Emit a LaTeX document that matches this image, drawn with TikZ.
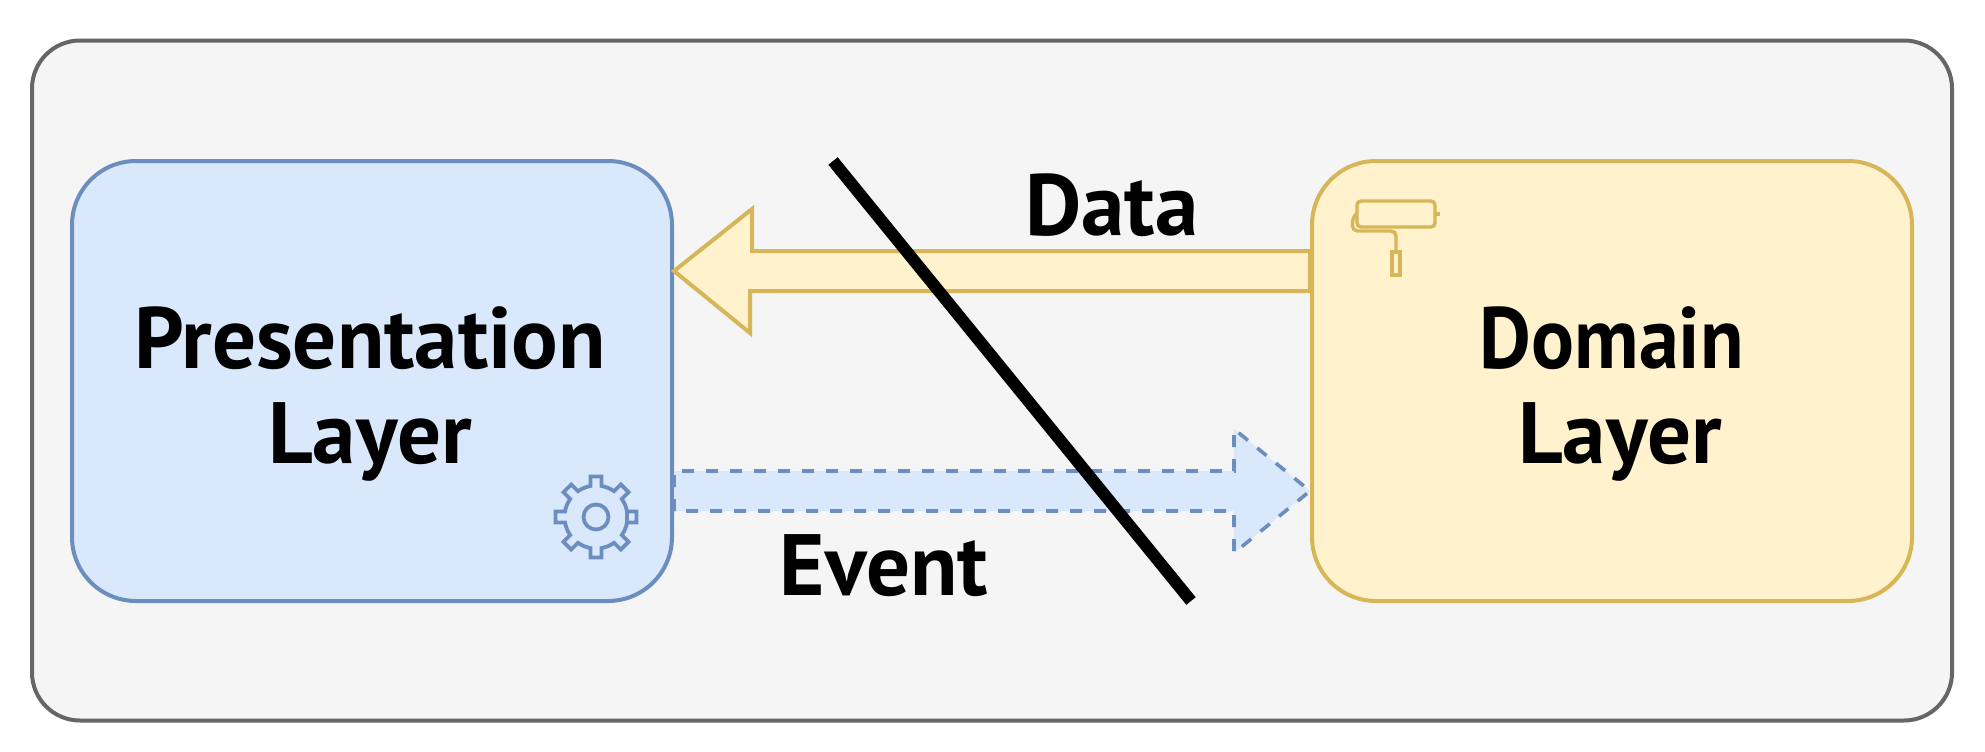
\documentclass[tikz,border=0pt]{standalone}
\usepackage{fontspec}
\setmainfont{PT Sans}
\usetikzlibrary{calc}
\definecolor{bluef}{HTML}{DAE8FC}
\definecolor{blued}{HTML}{6C8EBF}
\definecolor{yelf}{HTML}{FFF2CC}
\definecolor{yeld}{HTML}{D6B656}
\definecolor{grayf}{HTML}{F5F5F5}
\definecolor{grayd}{HTML}{666666}
\newcommand{\handfont}{\fontsize{43.5}{47.5}\selectfont\bfseries}
\tikzset{
  layerbox/.style={rectangle,draw,line width=2pt,rounded corners=32pt,minimum width=300pt,minimum height=220pt,inner sep=0pt},
  label/.style={font=\handfont,text=black,align=center,inner sep=0pt},
  yarrow/.style={draw=yeld,fill=yelf,line width=2pt,miter limit=10},
  barrowfill/.style={fill=bluef},
  barrowline/.style={draw=blued,line width=1.8pt,dash pattern=on 6pt off 6pt},
  icony/.style={draw=yeld,line width=1.7pt},
  iconb/.style={draw=blued,line width=1.9pt},
}
\begin{document}
\begin{tikzpicture}[x=0.5pt,y=-0.5pt]
\useasboundingbox (0,0) rectangle (1985,751);
\fill[white] (0,0) rectangle (1985,751);
\node[rectangle,draw=grayd,fill=grayf,line width=2pt,rounded corners=24pt,minimum width=960pt,minimum height=340pt,inner sep=0pt] (outer) at (992,380.5) {};
\node[layerbox,draw=blued,fill=bluef] (pres) at (372,381) {};
\node[layerbox,draw=yeld,fill=yelf] (dom) at (1612,381) {};
% Data arrow
\coordinate (dataY) at (0,271);
\coordinate (eventY) at (0,491);
\draw[yarrow] (pres.east |- dataY) -- ++(78,-62) -- ++(0,42) -- (dom.west |- 0,251) -- (dom.west |- 0,291) -- (750,291) -- ++(0,42) -- cycle;
% Event arrow
\fill[barrowfill] (pres.east |- 0,471) -- (1234,471) -- (1234,429) -- (dom.west |- eventY) -- (1234,553) -- (1234,511) -- (pres.east |- 0,511) -- cycle;
\draw[barrowline,dash phase=8pt] (674,471) -- (1234,471) -- (1234,429) -- (dom.west |- eventY) -- (1234,553) -- (1234,511) -- (674,511) -- (674,471);
% Strike-through
\coordinate (s1) at (833,161);
\coordinate (s2) at (1191,601);
\draw[black,line width=6pt] (s1) -- (s2);
% Roller icon
\draw[icony,rounded corners=2pt] (1357,201) rectangle (1435,227);
\draw[icony] (1436,214) -- (1440,214);
\draw[icony,rounded corners=2.5pt] (1356,214) -- (1352.5,218) -- (1352.5,231) -- (1396,231) -- (1396,252);
\draw[icony] (1392,252) rectangle (1400,275);
% Gear icon
\coordinate (gear) at (596,517);
\draw[iconb] (gear) circle[radius=12.5];
\draw[iconb,shift={(gear)}] (10:31.5)
  \foreach \a in {0,45,...,315}{
    -- ({\a-10}:31.5) -- ({\a-7.7}:40.9) -- ({\a+7.7}:40.9) -- ({\a+10}:31.5)
    arc[start angle=\a+10,end angle=\a+35,radius=31.5]
  } -- cycle;
% Text
\node[label] (ptext) at (370,394) {Presentation\\Layer};
\node[label] (dtext) at (1612,394) {\scalebox{0.92}[1]{Domain}\\\hspace*{8pt}Layer};
\node[label,anchor=base] (datal) at (1112,235) {Data};
\node[label,anchor=base] (eventl) at (884,595) {Event};
\end{tikzpicture}
\end{document}
